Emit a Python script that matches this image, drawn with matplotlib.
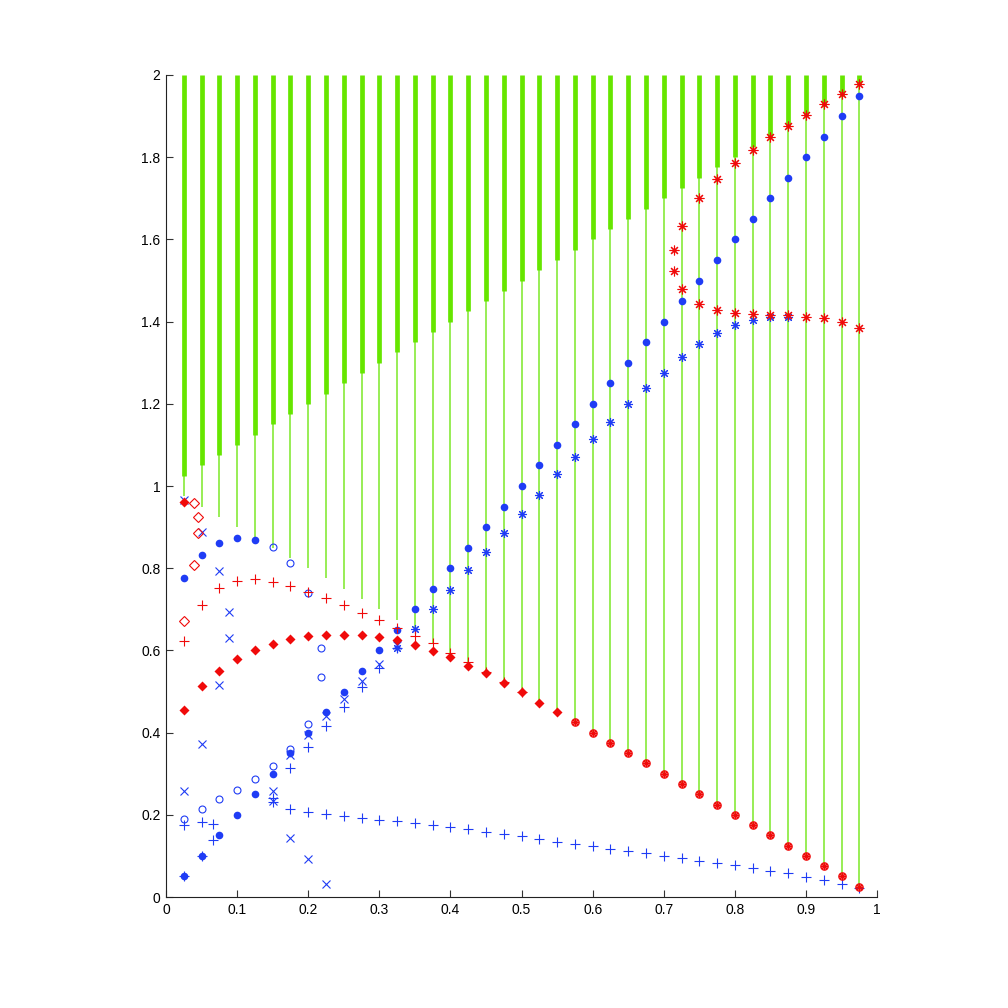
import matplotlib
matplotlib.use("Agg")
import matplotlib.pyplot as plt
from matplotlib.ticker import FuncFormatter

BLUE = "#1f3cf5"
RED = "#f00a0a"
GREEN = "#66e600"
GREEN_THIN = "#86ea38"

# grid of parameter values (0.025 ... 0.975)
x_grid = [0.025, 0.05, 0.075, 0.1, 0.125, 0.15, 0.175, 0.2, 0.225, 0.25,
          0.275, 0.3, 0.325, 0.35, 0.375, 0.4, 0.425, 0.45, 0.475, 0.5,
          0.525, 0.55, 0.575, 0.6, 0.625, 0.65, 0.675, 0.7, 0.725, 0.75,
          0.775, 0.8, 0.825, 0.85, 0.875, 0.9, 0.925, 0.95, 0.975]

# green bands: thin part from thin_lo to thick_lo, thick part from thick_lo to 2
thin_lo = [0.975, 0.95, 0.925, 0.9, 0.875, 0.85, 0.825, 0.8, 0.775, 0.75,
           0.725, 0.7, 0.675, 0.65, 0.617, 0.594, 0.571, 0.547, 0.521, 0.498,
           0.475, 0.45, 0.425, 0.4, 0.375, 0.35, 0.325, 0.3, 0.275, 0.25,
           0.225, 0.2, 0.175, 0.15, 0.125, 0.1, 0.075, 0.05, 0.025]
thick_lo = [1.025, 1.05, 1.075, 1.1, 1.125, 1.15, 1.175, 1.2, 1.225, 1.25,
            1.275, 1.3, 1.325, 1.35, 1.375, 1.4, 1.425, 1.45, 1.475, 1.5,
            1.525, 1.55, 1.575, 1.6, 1.625, 1.65, 1.675, 1.7, 1.725, 1.75,
            1.775, 1.8, 1.825, 1.85, 1.875, 1.9, 1.925, 1.95, 1.975]
band_top = 2.0

# blue filled dots
dot_y = [0.05, 0.1, 0.15, 0.2, 0.25, 0.3, 0.35, 0.4, 0.45, 0.5,
         0.55, 0.6, 0.65, 0.7, 0.75, 0.8, 0.85, 0.9, 0.95, 1.0,
         1.05, 1.1, 1.15, 1.2, 1.25, 1.3, 1.35, 1.4, 1.45, 1.5,
         1.55, 1.6, 1.65, 1.7, 1.75, 1.8, 1.85, 1.9, 1.95]
dot2_x = [0.025, 0.05, 0.075, 0.1, 0.125]
dot2_y = [0.775, 0.832, 0.861, 0.873, 0.869]

# blue open circles
circ_x = [0.025, 0.05, 0.075, 0.1, 0.125, 0.15, 0.175, 0.2, 0.218, 0.218, 0.2, 0.175, 0.15]
circ_y = [0.19, 0.215, 0.239, 0.261, 0.287, 0.319, 0.36, 0.421, 0.536, 0.605, 0.739, 0.812, 0.851]

# blue crosses
bx_x = [0.025, 0.05, 0.075, 0.089, 0.089, 0.075, 0.05, 0.025,
        0.15, 0.175, 0.2, 0.225,
        0.15, 0.175, 0.2, 0.225, 0.25, 0.275, 0.3, 0.325]
bx_y = [0.258, 0.373, 0.517, 0.629, 0.693, 0.793, 0.887, 0.965,
        0.234, 0.144, 0.092, 0.032,
        0.258, 0.345, 0.395, 0.44, 0.483, 0.525, 0.568, 0.612]

# blue plus signs
bp_x = [0.025, 0.05, 0.066, 0.066, 0.05, 0.025,
        0.15, 0.175, 0.2, 0.225, 0.25, 0.275, 0.3, 0.325,
        0.15, 0.175, 0.2, 0.225, 0.25, 0.275, 0.3, 0.325, 0.35, 0.375,
        0.4, 0.425, 0.45, 0.475, 0.5, 0.525, 0.55, 0.575, 0.6, 0.625,
        0.65, 0.675, 0.7, 0.725, 0.75, 0.775, 0.8, 0.825, 0.85, 0.875,
        0.9, 0.925, 0.95, 0.975]
bp_y = [0.05, 0.1, 0.139, 0.178, 0.182, 0.175,
        0.24, 0.314, 0.365, 0.415, 0.463, 0.512, 0.558, 0.607,
        0.23, 0.215, 0.208, 0.202, 0.197, 0.193, 0.188, 0.185, 0.18, 0.175,
        0.17, 0.165, 0.159, 0.153, 0.148, 0.142, 0.134, 0.129, 0.124, 0.117,
        0.112, 0.107, 0.1, 0.095, 0.088, 0.083, 0.078, 0.071, 0.064, 0.058,
        0.049, 0.041, 0.032, 0.022]

# blue asterisks
bs_x = [0.325, 0.35, 0.375, 0.4, 0.425, 0.45, 0.475, 0.5, 0.525, 0.55,
        0.575, 0.6, 0.625, 0.65, 0.675, 0.7, 0.725, 0.75, 0.775, 0.8,
        0.825, 0.85, 0.875]
bs_y = [0.607, 0.652, 0.70, 0.748, 0.795, 0.84, 0.886, 0.932, 0.977, 1.028,
        1.07, 1.114, 1.156, 1.2, 1.239, 1.276, 1.313, 1.346, 1.372, 1.392,
        1.404, 1.411, 1.412]

# red filled diamonds
rd_x = [0.025, 0.025, 0.05, 0.075, 0.1, 0.125, 0.15, 0.175, 0.2, 0.225,
        0.25, 0.275, 0.3, 0.325, 0.35, 0.375, 0.4, 0.425, 0.45, 0.475,
        0.5, 0.525, 0.55]
rd_y = [0.96, 0.456, 0.514, 0.551, 0.58, 0.60, 0.615, 0.627, 0.634, 0.638,
        0.638, 0.637, 0.632, 0.625, 0.612, 0.598, 0.583, 0.563, 0.544, 0.52,
        0.498, 0.472, 0.449]

# red open diamonds
ro_x = [0.025, 0.039, 0.045, 0.045, 0.039]
ro_y = [0.671, 0.807, 0.885, 0.924, 0.958]

# red plus signs
rp_x = [0.025, 0.05, 0.075, 0.1, 0.125, 0.15, 0.175, 0.2, 0.225, 0.25,
        0.275, 0.3, 0.325, 0.35, 0.375, 0.4, 0.425, 0.45, 0.475, 0.5]
rp_y = [0.624, 0.71, 0.753, 0.77, 0.773, 0.766, 0.756, 0.741, 0.727, 0.71,
        0.692, 0.674, 0.655, 0.635, 0.617, 0.594, 0.571, 0.548, 0.522, 0.498]

# red circled asterisks
rc_x = [0.575, 0.6, 0.625, 0.65, 0.675, 0.7, 0.725, 0.75, 0.775, 0.8,
        0.825, 0.85, 0.875, 0.9, 0.925, 0.95, 0.975]
rc_y = [0.425, 0.4, 0.375, 0.35, 0.325, 0.3, 0.275, 0.25, 0.225, 0.2,
        0.175, 0.15, 0.125, 0.1, 0.075, 0.05, 0.025]

# red asterisks
rs_x = [0.715, 0.715, 0.725, 0.725, 0.75, 0.775, 0.8, 0.825, 0.85, 0.875,
        0.9, 0.925, 0.95, 0.975,
        0.75, 0.775, 0.8, 0.825, 0.85, 0.875, 0.9, 0.925, 0.95, 0.975]
rs_y = [1.573, 1.524, 1.632, 1.48, 1.444, 1.429, 1.422, 1.419, 1.417, 1.415,
        1.412, 1.408, 1.40, 1.385,
        1.70, 1.748, 1.785, 1.817, 1.849, 1.876, 1.902, 1.929, 1.954, 1.978]

x_ticks = [0, 0.1, 0.2, 0.3, 0.4, 0.5, 0.6, 0.7, 0.8, 0.9, 1]
y_ticks = [0, 0.2, 0.4, 0.6, 0.8, 1, 1.2, 1.4, 1.6, 1.8, 2]

ASTER = (8, 2, 0)

plt.rcParams["font.family"] = ["Liberation Sans", "DejaVu Sans"]
plt.rcParams["font.size"] = 10

fig = plt.figure(figsize=(10.08, 10.08), dpi=100)
ax = fig.add_axes([0.1647, 0.1101, 0.7054, 0.8155])

ax.vlines(x_grid, thin_lo, thick_lo, color=GREEN_THIN, lw=1.2, zorder=1)
ax.vlines(x_grid, thick_lo, band_top, color=GREEN, lw=3.4, zorder=1)

ax.plot(x_grid, dot_y, "o", color=BLUE, ms=5.5, mec="none", zorder=3)
ax.plot(dot2_x, dot2_y, "o", color=BLUE, ms=5.5, mec="none", zorder=3)
ax.plot(circ_x, circ_y, "o", mfc="none", mec=BLUE, ms=5, mew=0.8, zorder=3)
ax.plot(bx_x, bx_y, "x", color=BLUE, ms=5.5, mew=0.8, zorder=3)
ax.plot(bp_x, bp_y, "+", color=BLUE, ms=7.5, mew=0.8, zorder=3)
ax.plot(bs_x, bs_y, marker=ASTER, ls="none", color=BLUE, ms=6.5, mew=0.8, zorder=3)

ax.plot(rd_x, rd_y, "D", color=RED, ms=5.2, mec="none", zorder=3)
ax.plot(ro_x, ro_y, "D", mfc="none", mec=RED, ms=5.5, mew=0.8, zorder=3)
ax.plot(rp_x, rp_y, "+", color=RED, ms=7.5, mew=0.8, zorder=3)
ax.plot(rc_x, rc_y, "o", mfc="none", mec=RED, ms=5.2, mew=1.0, zorder=3)
ax.plot(rc_x, rc_y, marker=ASTER, ls="none", color=RED, ms=5, mew=0.8, zorder=3)
ax.plot(rs_x, rs_y, marker=ASTER, ls="none", color=RED, ms=7, mew=0.8, zorder=3)

ax.set_xlim(0, 1)
ax.set_ylim(0, 2)
ax.set_xticks(x_ticks)
ax.set_yticks(y_ticks)
fmt = FuncFormatter(lambda v, p: f"{v:g}")
ax.xaxis.set_major_formatter(fmt)
ax.yaxis.set_major_formatter(fmt)
ax.tick_params(direction="in", length=5, width=0.8, color="#333333", pad=4)
for side in ["top", "right"]:
    ax.spines[side].set_visible(False)
for side in ["left", "bottom"]:
    ax.spines[side].set_linewidth(0.8)
    ax.spines[side].set_color("#222222")

fig.savefig("out.png", dpi=100)
